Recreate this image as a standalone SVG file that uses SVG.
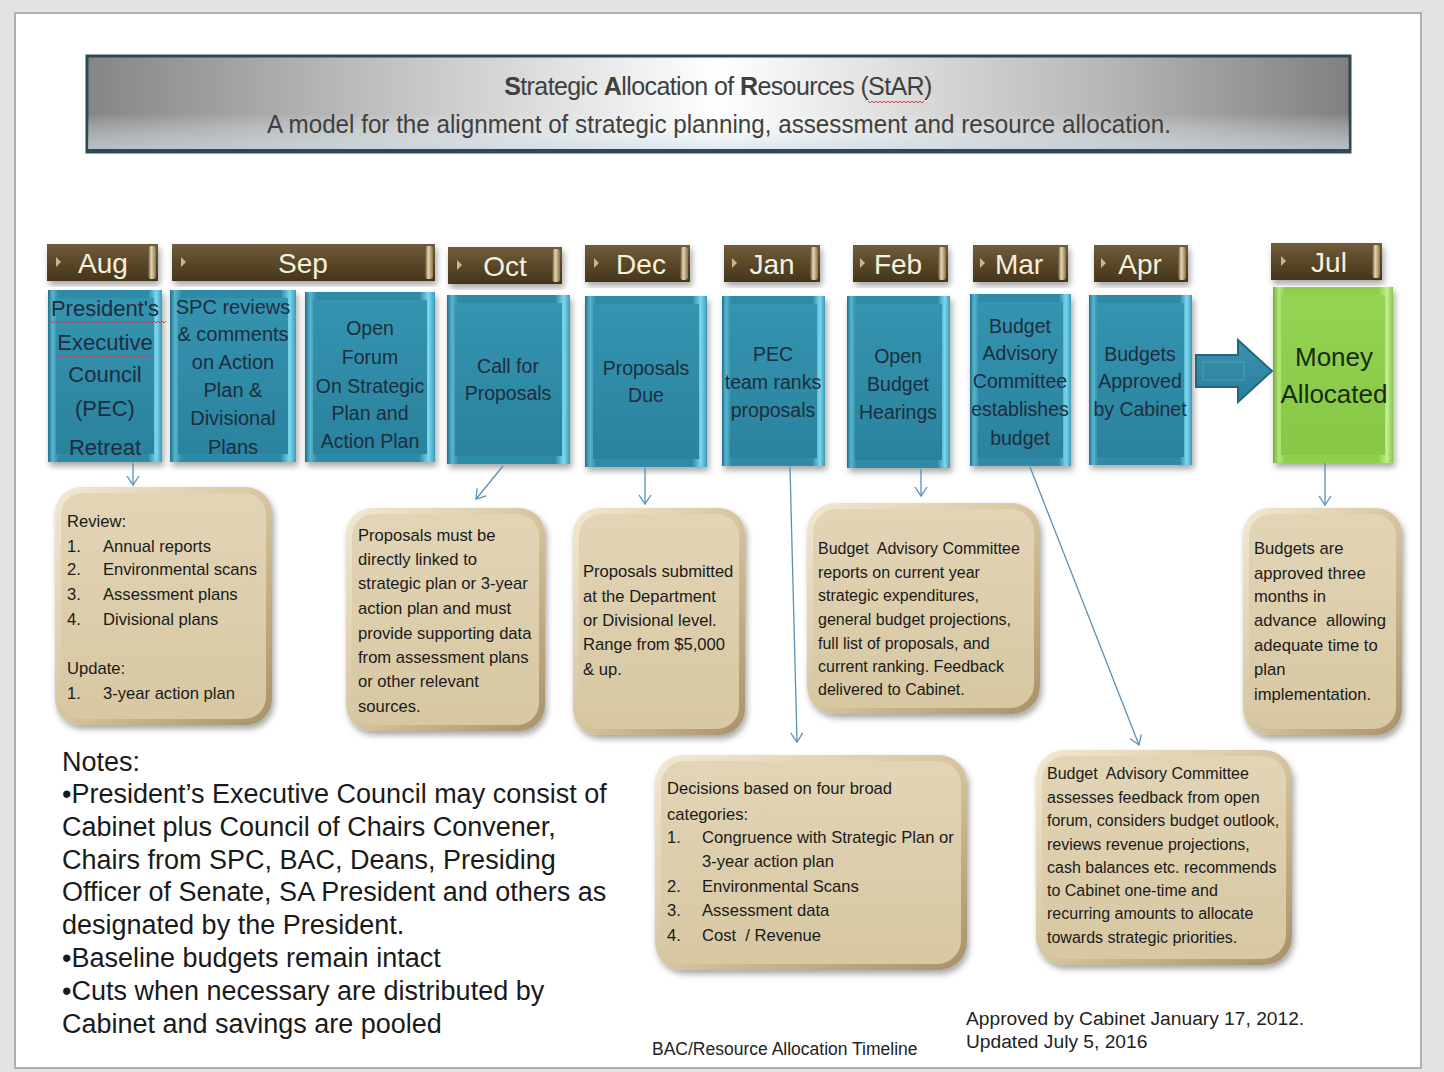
<svg xmlns="http://www.w3.org/2000/svg" width="1444" height="1072" viewBox="0 0 1444 1072">
<defs>
<style>
.blueT{font-family:"Liberation Sans",Arial,sans-serif;fill:#1d2e3e;text-anchor:middle}
.tanT{font-family:"Liberation Sans",Arial,sans-serif;font-size:16.6px;fill:#1a1a1a}
.tanS{font-family:"Liberation Sans",Arial,sans-serif;font-size:16px;fill:#1a1a1a}
.mon{font-family:"Liberation Sans",Arial,sans-serif;font-size:28px;fill:#f6f0de;text-anchor:middle}
.notes{font-family:"Liberation Sans",Arial,sans-serif;font-size:27px;fill:#1a1a1a}
.foot{font-family:"Liberation Sans",Arial,sans-serif;fill:#222}
.conn{stroke:#5a90b8;stroke-width:1.3;fill:none;marker-end:url(#arr)}
.wavy{stroke:#d0404a;stroke-width:1;fill:none}
</style>
<marker id="arr" markerWidth="14" markerHeight="14" refX="10" refY="7" orient="auto" markerUnits="userSpaceOnUse">
<path d="M1,1 L10,7 L1,13" fill="none" stroke="#5a90b8" stroke-width="1.3"/>
</marker>
<filter id="sh" x="-10%" y="-10%" width="125%" height="125%">
<feDropShadow dx="2" dy="4" stdDeviation="3" flood-color="#000" flood-opacity="0.35"/>
</filter>
<linearGradient id="titleH" x1="0" y1="0" x2="1" y2="0">
<stop offset="0" stop-color="#858585"/>
<stop offset="0.2" stop-color="#b8b8b8"/>
<stop offset="0.5" stop-color="#ffffff"/>
<stop offset="0.8" stop-color="#b8b8b8"/>
<stop offset="1" stop-color="#808080"/>
</linearGradient>
<linearGradient id="titleV" x1="0" y1="0" x2="0" y2="1">
<stop offset="0" stop-color="#ffffff" stop-opacity="0"/>
<stop offset="0.6" stop-color="#ffffff" stop-opacity="0"/>
<stop offset="1" stop-color="#c9dde6" stop-opacity="0.7"/>
</linearGradient>
<linearGradient id="hdr" x1="0" y1="0" x2="0" y2="1">
<stop offset="0" stop-color="#715d3a"/>
<stop offset="0.5" stop-color="#5a4829"/>
<stop offset="1" stop-color="#44361c"/>
</linearGradient>
<linearGradient id="hdrEnd" x1="0" y1="0" x2="1" y2="0">
<stop offset="0" stop-color="#5a4829"/>
<stop offset="0.4" stop-color="#e6d8b4"/>
<stop offset="1" stop-color="#8a7448"/>
</linearGradient>
<linearGradient id="blueH" x1="0" y1="0" x2="1" y2="0">
<stop offset="0" stop-color="#1f6f88"/>
<stop offset="0.04" stop-color="#58b6d0"/>
<stop offset="0.09" stop-color="#2f8ba7"/>
<stop offset="0.88" stop-color="#2f8ba7"/>
<stop offset="0.95" stop-color="#7cd8ee"/>
<stop offset="1" stop-color="#3b9ab6"/>
</linearGradient>
<linearGradient id="blueV" x1="0" y1="0" x2="0" y2="1">
<stop offset="0" stop-color="#3594b0"/>
<stop offset="1" stop-color="#2a829e"/>
</linearGradient>
<linearGradient id="greenH" x1="0" y1="0" x2="1" y2="0">
<stop offset="0" stop-color="#6fb034"/>
<stop offset="0.05" stop-color="#b6e67c"/>
<stop offset="0.1" stop-color="#8dcf4d"/>
<stop offset="0.88" stop-color="#8dcf4d"/>
<stop offset="0.95" stop-color="#c4ee8e"/>
<stop offset="1" stop-color="#86c84a"/>
</linearGradient>
<linearGradient id="greenV" x1="0" y1="0" x2="0" y2="1">
<stop offset="0" stop-color="#93d553"/>
<stop offset="1" stop-color="#86c746"/>
</linearGradient>
<linearGradient id="tanO" x1="0" y1="0" x2="1" y2="1">
<stop offset="0" stop-color="#f2e9d2"/>
<stop offset="0.5" stop-color="#d6c59f"/>
<stop offset="1" stop-color="#a89168"/>
</linearGradient>
<linearGradient id="tanI" x1="0" y1="0" x2="0" y2="1">
<stop offset="0" stop-color="#e2d5b6"/>
<stop offset="1" stop-color="#d7c7a2"/>
</linearGradient>
<linearGradient id="arrowG" x1="0" y1="0" x2="0" y2="1">
<stop offset="0" stop-color="#3a93b0"/>
<stop offset="1" stop-color="#2a7e9a"/>
</linearGradient>
</defs>

<!-- frame -->
<rect x="0" y="0" width="1444" height="1072" fill="#e3e3e3"/>
<rect x="15" y="13" width="1406" height="1055" fill="#ffffff" stroke="#b0b0b0" stroke-width="2"/>

<!-- title banner -->
<g id="title">
<rect x="87" y="56" width="1263" height="96" fill="url(#titleH)" stroke="#2e4a50" stroke-width="3"/>
<rect x="88" y="57" width="1261" height="94" fill="url(#titleV)"/>
<line x1="87" y1="151" x2="1350" y2="151" stroke="#2e4a50" stroke-width="4"/>
<text x="718" y="95" font-family="'Liberation Sans',sans-serif" font-size="25" letter-spacing="-0.6" fill="#404040" text-anchor="middle"><tspan font-weight="bold">S</tspan>trategic <tspan font-weight="bold">A</tspan>llocation of <tspan font-weight="bold">R</tspan>esources (StAR)</text>
<path class="wavy" d="M868,101 l2,2 l2,-2 l2,2 l2,-2 l2,2 l2,-2 l2,2 l2,-2 l2,2 l2,-2 l2,2 l2,-2 l2,2 l2,-2 l2,2 l2,-2 l2,2 l2,-2 l2,2 l2,-2 l2,2 l2,-2 l2,2 l2,-2 l2,2 l2,-2 l2,2 l2,-2"/>
<text x="719" y="133" font-family="'Liberation Sans',sans-serif" font-size="25" fill="#404040" text-anchor="middle" textLength="904" lengthAdjust="spacingAndGlyphs">A model for the alignment of strategic planning, assessment and resource allocation.</text>
</g>

<!-- month headers -->
<g id="hdr-aug"><rect x="47" y="244" width="111" height="37" fill="url(#hdr)" filter="url(#sh)"/><path d="M56,257 l5,5 l-5,5z" fill="#c9b68c"/><rect x="148" y="246" width="8" height="33" rx="3" fill="url(#hdrEnd)"/><text class="mon" x="103" y="273">Aug</text></g>
<g id="hdr-sep"><rect x="172" y="244" width="263" height="37" fill="url(#hdr)" filter="url(#sh)"/><path d="M181,257 l5,5 l-5,5z" fill="#c9b68c"/><rect x="425" y="246" width="8" height="33" rx="3" fill="url(#hdrEnd)"/><text class="mon" x="303" y="273">Sep</text></g>
<g id="hdr-oct"><rect x="448" y="247" width="114" height="37" fill="url(#hdr)" filter="url(#sh)"/><path d="M457,260 l5,5 l-5,5z" fill="#c9b68c"/><rect x="552" y="249" width="8" height="33" rx="3" fill="url(#hdrEnd)"/><text class="mon" x="505" y="276">Oct</text></g>
<g id="hdr-dec"><rect x="585" y="245" width="105" height="37" fill="url(#hdr)" filter="url(#sh)"/><path d="M594,258 l5,5 l-5,5z" fill="#c9b68c"/><rect x="680" y="247" width="8" height="33" rx="3" fill="url(#hdrEnd)"/><text class="mon" x="641" y="274">Dec</text></g>
<g id="hdr-jan"><rect x="724" y="245" width="96" height="37" fill="url(#hdr)" filter="url(#sh)"/><path d="M732,258 l5,5 l-5,5z" fill="#c9b68c"/><rect x="810" y="247" width="8" height="33" rx="3" fill="url(#hdrEnd)"/><text class="mon" x="772" y="274">Jan</text></g>
<g id="hdr-feb"><rect x="853" y="245" width="95" height="37" fill="url(#hdr)" filter="url(#sh)"/><path d="M860,258 l5,5 l-5,5z" fill="#c9b68c"/><rect x="938" y="247" width="8" height="33" rx="3" fill="url(#hdrEnd)"/><text class="mon" x="898" y="274">Feb</text></g>
<g id="hdr-mar"><rect x="973" y="245" width="95" height="37" fill="url(#hdr)" filter="url(#sh)"/><path d="M980,258 l5,5 l-5,5z" fill="#c9b68c"/><rect x="1058" y="247" width="8" height="33" rx="3" fill="url(#hdrEnd)"/><text class="mon" x="1019" y="274">Mar</text></g>
<g id="hdr-apr"><rect x="1094" y="245" width="94" height="37" fill="url(#hdr)" filter="url(#sh)"/><path d="M1101,258 l5,5 l-5,5z" fill="#c9b68c"/><rect x="1178" y="247" width="8" height="33" rx="3" fill="url(#hdrEnd)"/><text class="mon" x="1140" y="274">Apr</text></g>
<g id="hdr-jul"><rect x="1271" y="243" width="111" height="37" fill="url(#hdr)" filter="url(#sh)"/><path d="M1281,256 l5,5 l-5,5z" fill="#c9b68c"/><rect x="1372" y="245" width="8" height="33" rx="3" fill="url(#hdrEnd)"/><text class="mon" x="1329" y="272">Jul</text></g>

<!-- blue step boxes -->
<g id="box-aug">
<rect x="48" y="290" width="114" height="172" fill="url(#blueH)" filter="url(#sh)"/>
<rect x="56" y="298" width="98" height="156" fill="url(#blueV)"/>
<g class="blueT" font-size="22"><text x="105" y="316">President's</text><text x="105" y="350">Executive</text><text x="105" y="382">Council</text><text x="105" y="416">(PEC)</text><text x="105" y="455">Retreat</text></g>
<path class="wavy" d="M50,321 l2,2 l2,-2 l2,2 l2,-2 l2,2 l2,-2 l2,2 l2,-2 l2,2 l2,-2 l2,2 l2,-2 l2,2 l2,-2 l2,2 l2,-2 l2,2 l2,-2 l2,2 l2,-2 l2,2 l2,-2 l2,2 l2,-2 l2,2 l2,-2 l2,2 l2,-2 l2,2 l2,-2 l2,2 l2,-2 l2,2 l2,-2 l2,2 l2,-2 l2,2 l2,-2 l2,2 l2,-2 l2,2 l2,-2 l2,2 l2,-2 l2,2 l2,-2 l2,2 l2,-2 l2,2 l2,-2 l2,2 l2,-2 l2,2 l2,-2 l2,2 l2,-2 l2,2 l2,-2"/>
<path class="wavy" d="M56,355 l2,2 l2,-2 l2,2 l2,-2 l2,2 l2,-2 l2,2 l2,-2 l2,2 l2,-2 l2,2 l2,-2 l2,2 l2,-2 l2,2 l2,-2 l2,2 l2,-2 l2,2 l2,-2 l2,2 l2,-2 l2,2 l2,-2 l2,2 l2,-2 l2,2 l2,-2 l2,2 l2,-2 l2,2 l2,-2 l2,2 l2,-2 l2,2 l2,-2 l2,2 l2,-2 l2,2 l2,-2 l2,2 l2,-2 l2,2 l2,-2 l2,2 l2,-2 l2,2 l2,-2"/>
</g>
<g id="box-sep1">
<rect x="170" y="290" width="126" height="172" fill="url(#blueH)" filter="url(#sh)"/>
<rect x="178" y="298" width="110" height="156" fill="url(#blueV)"/>
<g class="blueT" font-size="20"><text x="233" y="314">SPC reviews</text><text x="233" y="341">&amp; comments</text><text x="233" y="369">on Action</text><text x="233" y="397">Plan &amp;</text><text x="233" y="425">Divisional</text><text x="233" y="454">Plans</text></g>
</g>
<g id="box-sep2">
<rect x="305" y="292" width="130" height="170" fill="url(#blueH)" filter="url(#sh)"/>
<rect x="313" y="300" width="114" height="154" fill="url(#blueV)"/>
<g class="blueT" font-size="19.5"><text x="370" y="335">Open</text><text x="370" y="364">Forum</text><text x="370" y="393">On Strategic</text><text x="370" y="420">Plan and</text><text x="370" y="448">Action Plan</text></g>
</g>
<g id="box-oct">
<rect x="447" y="295" width="123" height="169" fill="url(#blueH)" filter="url(#sh)"/>
<rect x="455" y="303" width="107" height="153" fill="url(#blueV)"/>
<g class="blueT" font-size="19.5"><text x="508" y="373">Call for</text><text x="508" y="400">Proposals</text></g>
</g>
<g id="box-dec">
<rect x="585" y="296" width="122" height="171" fill="url(#blueH)" filter="url(#sh)"/>
<rect x="593" y="304" width="106" height="155" fill="url(#blueV)"/>
<g class="blueT" font-size="19.5"><text x="646" y="375">Proposals</text><text x="646" y="402">Due</text></g>
</g>
<g id="box-jan">
<rect x="722" y="296" width="103" height="170" fill="url(#blueH)" filter="url(#sh)"/>
<rect x="730" y="304" width="87" height="154" fill="url(#blueV)"/>
<g class="blueT" font-size="19.5"><text x="773" y="361">PEC</text><text x="773" y="389">team ranks</text><text x="773" y="417">proposals</text></g>
</g>
<g id="box-feb">
<rect x="847" y="296" width="103" height="172" fill="url(#blueH)" filter="url(#sh)"/>
<rect x="855" y="304" width="87" height="156" fill="url(#blueV)"/>
<g class="blueT" font-size="19.5"><text x="898" y="363">Open</text><text x="898" y="391">Budget</text><text x="898" y="419">Hearings</text></g>
</g>
<g id="box-mar">
<rect x="970" y="294" width="101" height="172" fill="url(#blueH)" filter="url(#sh)"/>
<rect x="978" y="302" width="85" height="156" fill="url(#blueV)"/>
<g class="blueT" font-size="19.5"><text x="1020" y="333">Budget</text><text x="1020" y="360">Advisory</text><text x="1020" y="388">Committee</text><text x="1020" y="416">establishes</text><text x="1020" y="445">budget</text></g>
</g>
<g id="box-apr">
<rect x="1089" y="295" width="103" height="170" fill="url(#blueH)" filter="url(#sh)"/>
<rect x="1097" y="303" width="87" height="154" fill="url(#blueV)"/>
<g class="blueT" font-size="19.5"><text x="1140" y="361">Budgets</text><text x="1140" y="388">Approved</text><text x="1140" y="416">by Cabinet</text></g>
</g>
<g id="box-jul">
<rect x="1273" y="287" width="120" height="176" fill="url(#greenH)" filter="url(#sh)"/>
<rect x="1281" y="295" width="104" height="160" fill="url(#greenV)"/>
<g class="blueT" font-size="26" style="fill:#1a2a10"><text x="1334" y="366">Money</text><text x="1334" y="403">Allocated</text></g>
</g>

<!-- tan note boxes -->
<g id="note-aug">
<rect x="55" y="487" width="217" height="238" rx="26" fill="url(#tanO)" filter="url(#sh)"/>
<rect x="61" y="493" width="205" height="226" rx="22" fill="url(#tanI)"/>
<g class="tanT"><text x="67" y="527">Review:</text>
<text x="67" y="552">1.</text><text x="103" y="552">Annual reports</text>
<text x="67" y="575">2.</text><text x="103" y="575">Environmental scans</text>
<text x="67" y="600">3.</text><text x="103" y="600">Assessment plans</text>
<text x="67" y="625">4.</text><text x="103" y="625">Divisional plans</text>
<text x="67" y="674">Update:</text>
<text x="67" y="699">1.</text><text x="103" y="699">3-year action plan</text></g>
</g>
<g id="note-oct">
<rect x="346" y="508" width="199" height="223" rx="26" fill="url(#tanO)" filter="url(#sh)"/>
<rect x="352" y="514" width="187" height="211" rx="22" fill="url(#tanI)"/>
<g class="tanT"><text x="358" y="541">Proposals must be</text><text x="358" y="565">directly linked to</text><text x="358" y="589">strategic plan or 3-year</text><text x="358" y="614">action plan and must</text><text x="358" y="639">provide supporting data</text><text x="358" y="663">from assessment plans</text><text x="358" y="687">or other relevant</text><text x="358" y="712">sources.</text></g>
</g>
<g id="note-dec">
<rect x="573" y="508" width="172" height="227" rx="26" fill="url(#tanO)" filter="url(#sh)"/>
<rect x="579" y="514" width="160" height="215" rx="22" fill="url(#tanI)"/>
<g class="tanT"><text x="583" y="577">Proposals submitted</text><text x="583" y="602">at the Department</text><text x="583" y="626">or Divisional level.</text><text x="583" y="650">Range from $5,000</text><text x="583" y="675">&amp; up.</text></g>
</g>
<g id="note-feb">
<rect x="807" y="503" width="233" height="211" rx="28" fill="url(#tanO)" filter="url(#sh)"/>
<rect x="813" y="509" width="221" height="199" rx="24" fill="url(#tanI)"/>
<g class="tanS"><text x="818" y="554" xml:space="preserve">Budget  Advisory Committee</text><text x="818" y="578">reports on current year</text><text x="818" y="601">strategic expenditures,</text><text x="818" y="625">general budget projections,</text><text x="818" y="649">full list of proposals, and</text><text x="818" y="672">current ranking. Feedback</text><text x="818" y="695">delivered to Cabinet.</text></g>
</g>
<g id="note-jan">
<rect x="655" y="755" width="312" height="215" rx="28" fill="url(#tanO)" filter="url(#sh)"/>
<rect x="661" y="761" width="300" height="203" rx="24" fill="url(#tanI)"/>
<g class="tanT"><text x="667" y="794">Decisions based on four broad</text><text x="667" y="820">categories:</text>
<text x="667" y="843">1.</text><text x="702" y="843">Congruence with Strategic Plan or</text>
<text x="702" y="867">3-year action plan</text>
<text x="667" y="892">2.</text><text x="702" y="892">Environmental Scans</text>
<text x="667" y="916">3.</text><text x="702" y="916">Assessment data</text>
<text x="667" y="941">4.</text><text x="702" y="941" xml:space="preserve">Cost  / Revenue</text></g>
</g>
<g id="note-mar">
<rect x="1036" y="750" width="256" height="215" rx="28" fill="url(#tanO)" filter="url(#sh)"/>
<rect x="1042" y="756" width="244" height="203" rx="24" fill="url(#tanI)"/>
<g class="tanS"><text x="1047" y="779" xml:space="preserve">Budget  Advisory Committee</text><text x="1047" y="803">assesses feedback from open</text><text x="1047" y="826">forum, considers budget outlook,</text><text x="1047" y="850">reviews revenue projections,</text><text x="1047" y="873">cash balances etc. recommends</text><text x="1047" y="896">to Cabinet one-time and</text><text x="1047" y="919">recurring amounts to allocate</text><text x="1047" y="943">towards strategic priorities.</text></g>
</g>
<g id="note-jul">
<rect x="1243" y="508" width="159" height="227" rx="26" fill="url(#tanO)" filter="url(#sh)"/>
<rect x="1249" y="514" width="147" height="215" rx="22" fill="url(#tanI)"/>
<g class="tanT"><text x="1254" y="554">Budgets are</text><text x="1254" y="579">approved three</text><text x="1254" y="602">months in</text><text x="1254" y="626" xml:space="preserve">advance  allowing</text><text x="1254" y="651">adequate time to</text><text x="1254" y="675">plan</text><text x="1254" y="700">implementation.</text></g>
</g>

<!-- connectors -->
<g id="connectors">
<path d="M1196,355 L1238,355 L1238,340 L1272,371 L1238,402 L1238,387 L1196,387 Z" fill="url(#arrowG)" stroke="#23657c" stroke-width="2"/>
<path d="M1203,362 L1244,362 L1244,380 L1203,380 Z" fill="none" stroke="#5fb0c8" stroke-width="1" opacity="0.6"/>
<line class="conn" x1="133" y1="463" x2="133" y2="485"/>
<line class="conn" x1="503" y1="466" x2="476" y2="499"/>
<line class="conn" x1="645" y1="468" x2="645" y2="504"/>
<line class="conn" x1="790" y1="467" x2="797" y2="742"/>
<line class="conn" x1="921" y1="469" x2="921" y2="496"/>
<line class="conn" x1="1030" y1="467" x2="1139" y2="745"/>
<line class="conn" x1="1325" y1="463" x2="1325" y2="505"/>
</g>

<!-- notes -->
<g id="notes" class="notes">
<text x="62" y="771">Notes:</text>
<text x="62" y="803">•President’s Executive Council may consist of</text>
<text x="62" y="836">Cabinet plus Council of Chairs Convener,</text>
<text x="62" y="869">Chairs from SPC, BAC, Deans, Presiding</text>
<text x="62" y="901">Officer of Senate, SA President and others as</text>
<text x="62" y="934">designated by the President.</text>
<text x="62" y="967">•Baseline budgets remain intact</text>
<text x="62" y="1000">•Cuts when necessary are distributed by</text>
<text x="62" y="1033">Cabinet and savings are pooled</text>
</g>

<!-- footer -->
<g id="footer">
<text class="foot" x="652" y="1055" font-size="17.5">BAC/Resource Allocation Timeline</text>
<text class="foot" x="966" y="1025" font-size="19.2">Approved by Cabinet January 17, 2012.</text>
<text class="foot" x="966" y="1048" font-size="19.2">Updated July 5, 2016</text>
</g>
</svg>
